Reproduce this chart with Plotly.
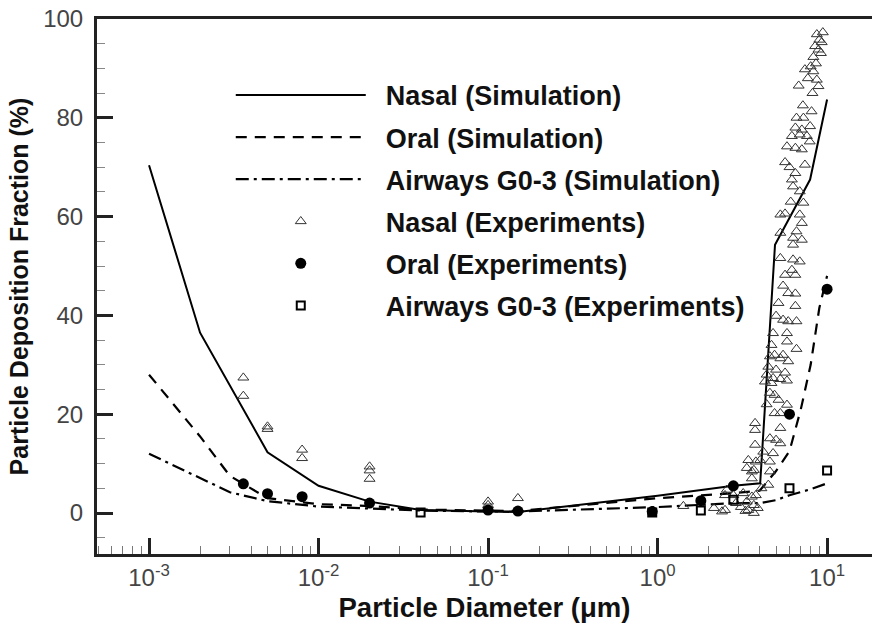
import plotly.graph_objects as go

# ---------------- data ----------------
nasal_sim_x = [1e-3, 2e-3, 5e-3, 1e-2, 2e-2, 4e-2, 0.1, 0.15, 1.0, 2.8, 4.03, 4.93, 7.94, 10.0]
nasal_sim_y = [70.4, 36.5, 12.3, 5.5, 2.3, 0.6, 0.3, 0.2, 3.5, 5.5, 6.0, 54.3, 67.5, 83.7]

oral_sim_x = [1e-3, 2e-3, 3e-3, 5e-3, 1e-2, 2e-2, 4e-2, 0.1, 0.15, 1.0, 2.8, 4.0, 5.0, 6.0, 7.0, 8.0, 9.0, 10.0]
oral_sim_y = [28.0, 15.5, 7.5, 3.0, 1.8, 1.4, 0.7, 0.4, 0.4, 3.0, 4.0, 4.5, 8.5, 12.5, 21.0, 30.0, 41.5, 48.0]

air_sim_x = [1e-3, 2e-3, 3e-3, 5e-3, 1e-2, 2e-2, 4e-2, 0.1, 0.15, 1.0, 2.8, 4.0, 5.0, 6.0, 8.0, 10.0]
air_sim_y = [12.0, 7.0, 4.2, 2.4, 1.3, 0.9, 0.5, 0.3, 0.3, 1.2, 2.0, 2.0, 2.6, 3.6, 4.8, 6.0]

nasal_exp_x = [3.6e-3, 3.6e-3, 5e-3, 5e-3, 8e-3, 8e-3, 2e-2, 2e-2, 2e-2, 0.1, 0.1, 0.15,
               9.44, 8.7, 9.3, 8.9, 9.2, 8.3, 8.0, 7.4, 8.3, 8.7, 6.8, 8.9, 8.2, 8.1, 6.6, 7.25, 7.94, 6.5,
               7.1, 6.2, 6.9, 7.6, 7.9, 5.8, 6.5, 7.1, 5.65, 7.4, 6.5, 6.2, 6.3, 6.9,
               7.25, 5.3, 5.65, 6.9, 7.1, 5.3, 6.6, 6.3, 7.1, 6.3, 5.3, 6.3, 6.9, 6.2, 5.65, 6.5, 5.9, 6.5,
               5.17, 6.5, 5.0, 5.5, 5.9, 6.6, 4.8, 5.8, 5.8, 4.7, 6.6, 4.9, 5.5, 4.6, 5.3, 5.9, 4.5, 5.0,
               5.65, 4.4, 4.8, 5.3, 5.8, 4.3, 4.7,
               4.6, 4.9, 5.17, 5.8, 4.9, 5.3, 3.76, 5.3, 3.76, 4.6, 5.0, 5.3, 3.76, 4.2, 4.8, 3.43, 3.8,
               4.6, 3.36, 3.7, 4.6, 3.6, 4.5, 2.56, 2.5, 2.8, 3.2, 3.6, 3.8, 3.36, 3.7, 2.5, 3.43, 3.9,
               3.7, 1.42, 2.15, 2.4, 4.03, 3.6, 3.1, 2.9, 3.3,
               9.0, 8.5, 7.7, 8.6, 7.2, 6.0, 6.1, 5.5, 4.4, 4.1]
nasal_exp_y = [27.4, 23.7, 17.5, 17.0, 12.8, 11.1, 9.4, 8.6, 6.9, 2.3, 1.6, 3.0,
               97.3, 96.9, 95.3, 93.8, 93.1, 92.3, 90.4, 89.8, 89.4, 87.7, 86.5, 86.4, 85.0, 81.3, 80.0, 80.0, 78.3, 78.0,
               77.6, 76.3, 76.6, 76.3, 75.2, 74.2, 73.9, 73.6, 71.0, 70.5, 68.8, 67.5, 66.1, 65.1,
               62.8, 60.4, 60.6, 60.4, 58.7, 56.7, 57.0, 55.7, 55.3, 54.3, 51.6, 51.3, 50.9, 49.2, 48.2, 48.2, 44.5, 44.4,
               42.5, 41.9, 39.9, 39.1, 38.8, 38.8, 36.4, 36.4, 34.7, 34.0, 33.2, 32.0, 32.0, 31.7, 31.3, 30.7, 29.6, 29.0,
               28.4, 28.0, 27.3, 27.1, 26.8, 26.6, 26.3,
               24.3, 23.9, 22.9, 21.9, 20.2, 20.2, 18.2, 17.2, 16.8, 15.1, 14.8, 14.1, 13.8, 12.4, 12.1, 10.7, 10.4,
               10.4, 9.1, 8.7, 8.4, 7.0, 5.7, 4.7, 3.6, 3.6, 4.0, 3.3, 3.6, 2.3, 1.6, 0.6, 0.6, 1.0,
               0.0, 1.4, 1.0, 0.3, 10.7, 8.4, 1.2, 2.0, 0.4,
               95.8, 94.5, 88.0, 91.0, 82.5, 70.0, 63.0, 46.0, 22.0, 5.0]

oral_exp_x = [3.6e-3, 5e-3, 8e-3, 2e-2, 0.1, 0.15, 0.93, 1.8, 2.8, 6.0, 10.0]
oral_exp_y = [5.9, 3.9, 3.3, 2.0, 0.6, 0.4, 0.3, 2.5, 5.5, 20.0, 45.3]

air_exp_x = [0.04, 0.93, 1.8, 2.8, 6.0, 10.0]
air_exp_y = [0.1, 0.1, 0.5, 2.7, 5.0, 8.6]

x_tickvals = [1e-3, 1e-2, 1e-1, 1e0, 1e1]
x_ticktext = ["10<sup>-3</sup>", "10<sup>-2</sup>", "10<sup>-1</sup>", "10<sup>0</sup>", "10<sup>1</sup>"]
x_minor_vals = [m * 10.0 ** e for e in range(-4, 2) for m in range(2, 10)]
y_tickvals = [0, 20, 40, 60, 80, 100]

# ---------------- figure ----------------
pad = "\u00a0\u00a0"
fig = go.Figure()
fig.add_trace(go.Scatter(x=nasal_sim_x, y=nasal_sim_y, mode="lines", name=pad + "Nasal (Simulation)",
                         line=dict(color="black", width=2), legendgroup="a"))
fig.add_trace(go.Scatter(x=oral_sim_x, y=oral_sim_y, mode="lines", name=pad + "Oral (Simulation)",
                         line=dict(color="black", width=2.2, dash="11px,8px"), legendgroup="b"))
fig.add_trace(go.Scatter(x=air_sim_x, y=air_sim_y, mode="lines", name=pad + "Airways G0-3 (Simulation)",
                         line=dict(color="black", width=2.2, dash="13px,5px,3px,5px"), legendgroup="c"))
fig.add_trace(go.Scatter(x=nasal_exp_x, y=nasal_exp_y, mode="markers", name=pad + "Nasal (Experiments)",
                         marker=dict(symbol="triangle-up-open", size=9.5, color="#333", line=dict(width=1)),
                         legendgroup="d"))
fig.add_trace(go.Scatter(x=oral_exp_x, y=oral_exp_y, mode="markers", name=pad + "Oral (Experiments)",
                         marker=dict(symbol="circle", size=11, color="black"), legendgroup="e"))
fig.add_trace(go.Scatter(x=air_exp_x, y=air_exp_y, mode="markers", name=pad + "Airways G0-3 (Experiments)",
                         marker=dict(symbol="square-open", size=8, color="black", line=dict(width=2)),
                         legendgroup="f"))

fnt = "Liberation Sans, Arial, sans-serif"
fig.update_layout(
    width=872, height=629,
    margin=dict(l=97, r=0, t=19, b=75),
    paper_bgcolor="white", plot_bgcolor="white",
    font=dict(family=fnt, color="#222"),
    showlegend=True,
    legend=dict(x=0.1726, y=0.903, xanchor="left", yanchor="top", bgcolor="rgba(0,0,0,0)",
                font=dict(size=27, family=fnt, color="#111", weight="bold"),
                itemwidth=130, tracegroupgap=4, traceorder="grouped"),
    xaxis=dict(type="log", range=[-3.307, 1.265], tickvals=x_tickvals, ticktext=x_ticktext,
               ticks="inside", ticklen=16, tickwidth=3, tickcolor="#222",
               minor=dict(tickvals=x_minor_vals, ticks="inside", ticklen=8, tickwidth=1,
                          tickcolor="#777", showgrid=False),
               showline=True, linewidth=3, linecolor="#222", mirror=True, showgrid=False, zeroline=False,
               tickfont=dict(size=24, color="#444"),
               title=dict(text="Particle Diameter (μm)", font=dict(size=27.5, weight="bold", color="#111"),
                          standoff=8)),
    yaxis=dict(range=[-8.3, 100], tickvals=y_tickvals,
               ticks="inside", ticklen=16, tickwidth=3, tickcolor="#222",
               minor=dict(dtick=5, ticks="inside", ticklen=8, tickwidth=1, tickcolor="#888", showgrid=False),
               showline=True, linewidth=3, linecolor="#222", mirror=False, showgrid=False, zeroline=False,
               tickfont=dict(size=24, color="#444"), ticklabelstandoff=6,
               title=dict(text="Particle Deposition Fraction (%)", font=dict(size=25, weight="bold", color="#111"),
                          standoff=8)),
)

fig.write_html("out.html")
